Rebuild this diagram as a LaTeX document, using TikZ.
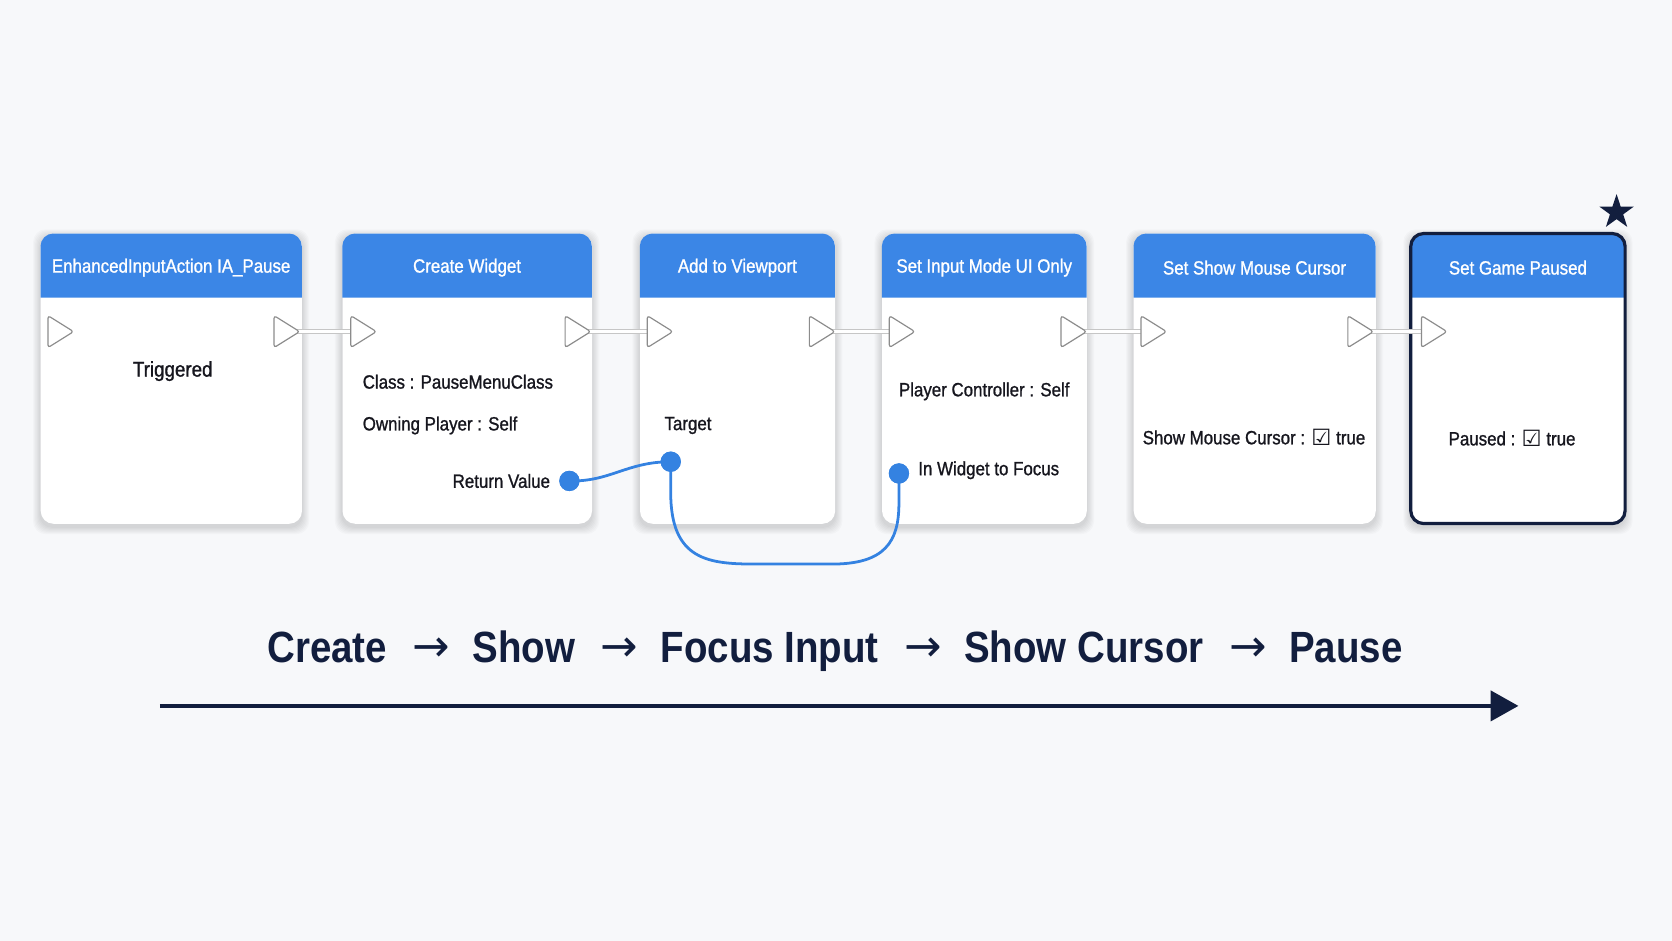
\documentclass[tikz,border=0pt]{standalone}
\usepackage{fontspec}
\setmainfont[FakeStretch=0.88]{Liberation Sans}
\newfontfamily\medfont[FakeStretch=0.88,FakeBold=1.1]{Liberation Sans}
\newfontfamily\symfont{DejaVu Sans}
\usetikzlibrary{shapes.geometric,arrows.meta}
\definecolor{bg}{RGB}{247,248,250}
\definecolor{hdrblue}{RGB}{59,134,230}
\definecolor{wireblue}{RGB}{52,130,225}
\definecolor{navy}{RGB}{18,30,62}
\definecolor{ink}{RGB}{22,22,30}
\definecolor{pingray}{RGB}{140,140,140}
\tikzset{
  bpbody/.style={rectangle, rounded corners=12, fill=white, minimum height=272, inner sep=0},
  hdr/.style={fill=hdrblue},
  hdrtxt/.style={text=white, font=\medfont\fontsize{18}{20}\selectfont, inner sep=0},
  bodytxt/.style={text=ink, font=\medfont\fontsize{18}{20}\selectfont, inner sep=0},
  execpin/.style={draw=pingray, fill=white, line width=1.1, rounded corners=2.5, line join=round},
  execwire/.style={draw=gray!45, double=white, double distance=3, line width=1},
  datapin/.style={circle, fill=wireblue, minimum size=19, inner sep=0},
  datawire/.style={draw=wireblue, line width=2.6},
}
\newcommand\bpnode[4]{% name, x1, x2, title
  \foreach \s in {1,...,7}{\fill[black,opacity=0.018,rounded corners=12] (#2-\s,219-\s+3) rectangle (#3+\s,491+\s+3);}
  \node[bpbody, minimum width={#3-#2}, anchor=north west] (#1) at (#2,219) {};
  \fill[hdr] (#2,279) [rounded corners=12] -- (#2,219) -- (#3,219) [sharp corners] -- (#3,279) -- cycle;
  \node[hdrtxt] (#1-t) at ({(#2+#3)/2},251) {#4};
}
\newcommand\execpinat[2]{% name, x
  \coordinate (#1) at (#2,311);
  \draw[execpin] (#2,296) -- (#2+24,311) -- (#2,326) -- cycle;
}
\newcommand\flowarrow{\hspace{24pt}{\symfont\mdseries\fontsize{42}{44}\selectfont\raisebox{1pt}{→}}\hspace{21pt}}
\newcommand\chk{{\symfont\fontsize{21}{22}\selectfont\raisebox{-1pt}{☑}}}
\begin{document}
\begin{tikzpicture}[x=1pt,y=-1pt]
\fill[bg] (0,0) rectangle (1568,882);
\useasboundingbox (0,0) rectangle (1568,882);

\bpnode{n1}{38}{283}{EnhancedInputAction IA\_Pause}
\bpnode{n2}{321}{555}{Create Widget}
\bpnode{n3}{600}{783}{Add to Viewport}
\bpnode{n4}{827}{1019}{Set Input Mode UI Only}
\bpnode{n5}{1063}{1290}{Set Show Mouse Cursor}
\bpnode{n6}{1323}{1524}{Set Game Paused}
\draw[navy, line width=3, rounded corners=12] (1323,219) rectangle (1524,491);

% exec wires
\coordinate (o1) at (269,311); \coordinate (i2) at (329,311);
\coordinate (o2) at (542,311); \coordinate (i3) at (607,311);
\coordinate (o3) at (771,311); \coordinate (i4) at (834,311);
\coordinate (o4) at (1007,311); \coordinate (i5) at (1070,311);
\coordinate (o5) at (1276,311); \coordinate (i6) at (1333,311);
\draw[execwire] (o1) -- (i2);
\draw[execwire] (o2) -- (i3);
\draw[execwire] (o3) -- (i4);
\draw[execwire] (o4) -- (i5);
\draw[execwire] (o5) -- (i6);

\execpinat{p1in}{45}\execpinat{p1out}{257}
\execpinat{p2in}{329}\execpinat{p2out}{530}
\execpinat{p3in}{607}\execpinat{p3out}{759}
\execpinat{p4in}{834}\execpinat{p4out}{995}
\execpinat{p5in}{1070}\execpinat{p5out}{1264}
\execpinat{p6in}{1333}

% body texts
\node[bodytxt, font=\medfont\fontsize{20}{22}\selectfont] (trig) at (162,348) {Triggered};
\node[bodytxt, anchor=west] (cls) at (340,358) {Class : PauseMenuClass};
\node[bodytxt, anchor=west] (own) at (340,399) {Owning Player : Self};
\node[bodytxt, anchor=east] (ret) at (516,451) {Return Value};
\node[bodytxt, anchor=west] (tgt) at (623,399) {Target};
\node[bodytxt] (pc) at (923,367) {Player Controller : Self};
\node[bodytxt, anchor=west] (iwf) at (861,441) {In Widget to Focus};
\node[bodytxt] (smc) at (1176,410) {Show Mouse Cursor : \chk\ true};
\node[bodytxt] (pau) at (1418,411) {Paused : \chk\ true};

% data wires
\node[datapin] (rpin) at (534,451) {};
\node[datapin] (tpin) at (629,433) {};
\node[datapin] (wpin) at (843,444) {};
\draw[datawire] (rpin.center) .. controls (572,452) and (588,433) .. (tpin.center);
\draw[datawire] (tpin.center) -- (629,462) .. controls (629,526) and (665,529) .. (710,529) -- (780,529) .. controls (830,529) and (843,508) .. (843,472) -- (wpin.center);
\node[datapin] at (rpin) {};
\node[datapin] at (tpin) {};
\node[datapin] at (wpin) {};

% star
\node[star, star points=5, star point ratio=2.6, fill=navy, minimum size=34, inner sep=0] (star) at (1516,199) {};

% bottom
\node[text=navy, font=\bfseries\fontsize{41}{44}\selectfont, inner sep=0] (flow) at (783,611)
  {Create\flowarrow Show\flowarrow Focus Input\flowarrow Show Cursor\flowarrow Pause};
\coordinate (a0) at (150,662);
\coordinate (a1) at (1424,662);
\draw[navy, line width=4, -{Triangle[length=26,width=28]}] (a0) -- (a1);
\end{tikzpicture}
\end{document}
